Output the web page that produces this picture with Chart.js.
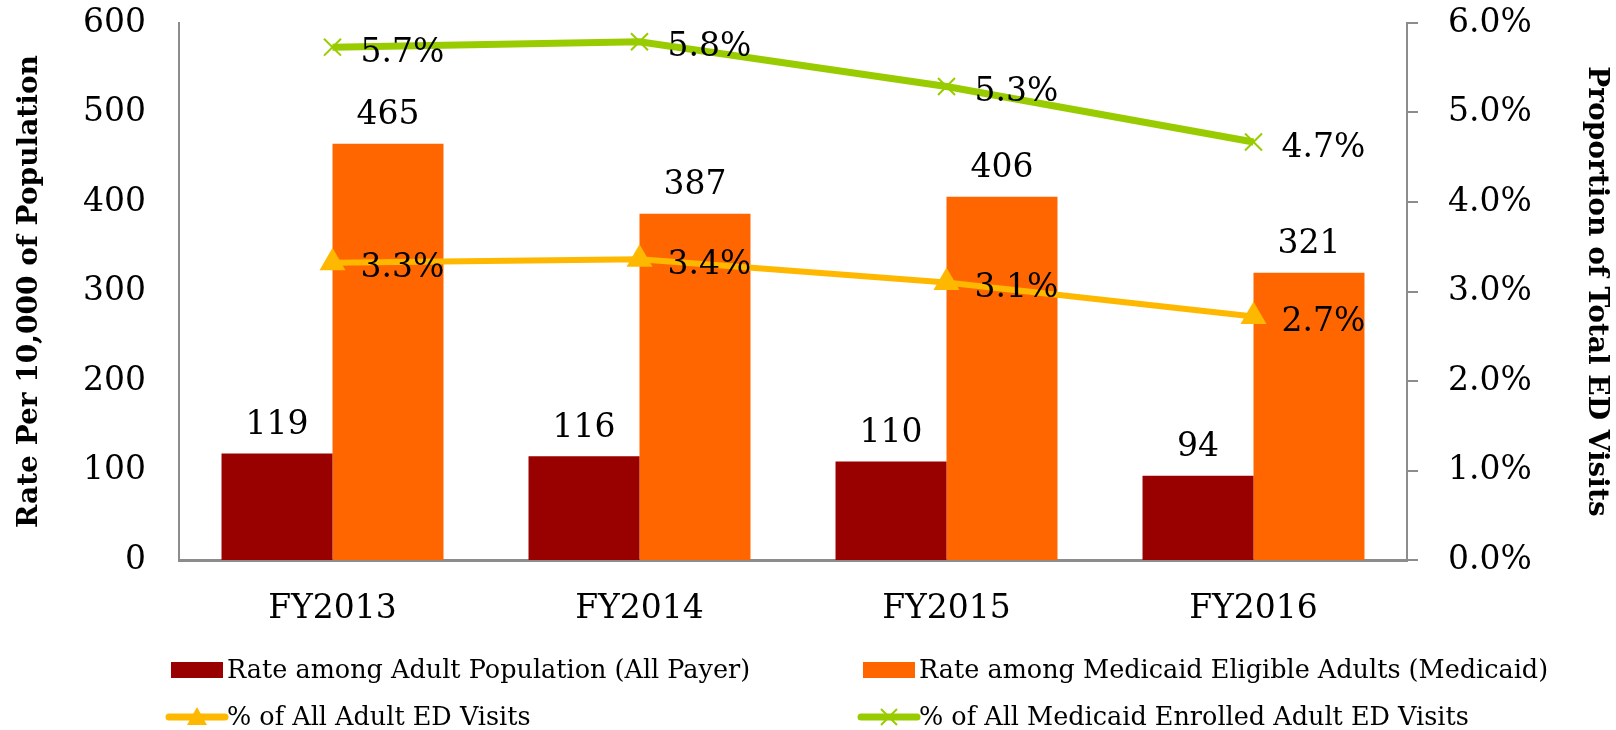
<!DOCTYPE html>
<html>
<head>
<meta charset="utf-8">
<script src="https://cdn.jsdelivr.net/npm/chart.js@4"></script>
<style>
  body { margin: 0; background: #fff; }
</style>
</head>
<body>
<canvas id="edChart" width="1616" height="730"></canvas>
<script>
let years = ["FY2013", "FY2014", "FY2015", "FY2016"]
let allPayerRate = [119, 116, 110, 94]
let medicaidRate = [465, 387, 406, 321]
let pctAllAdult = [3.32, 3.36, 3.10, 2.72]
let pctMedicaidAdult = [5.73, 5.79, 5.29, 4.67]
let leftTicks = [0, 100, 200, 300, 400, 500, 600]
let rightTicks = [0, 1, 2, 3, 4, 5, 6]

let serif = "'DejaVu Serif', serif"
let axisGray = "#8c8c8c"

// value labels above bars and to the right of line points
let valueLabels = {
    id: "valueLabels",
    afterDatasetsDraw(chart) {
        let ctx = chart.ctx
        ctx.save()
        ctx.fillStyle = "#000"
        ctx.font = "33px " + serif
        chart.data.datasets.forEach((ds, i) => {
            let meta = chart.getDatasetMeta(i)
            meta.data.forEach((el, j) => {
                ctx.textBaseline = "middle"
                if (ds.type == "bar") {
                    ctx.textAlign = "center"
                    ctx.fillText(ds.data[j], el.x, el.y - 28)
                } else {
                    ctx.textAlign = "left"
                    ctx.fillText(ds.data[j].toFixed(1) + "%", el.x + 28, el.y + 6)
                }
            })
        })
        ctx.restore()
    }
}

// two column legend under the chart
let gridLegend = {
    id: "gridLegend",
    afterDraw(chart) {
        let ctx = chart.ctx
        let cols = [171, 863]
        let rows = [670, 717]
        ctx.save()
        ctx.font = "25.5px " + serif
        ctx.textBaseline = "middle"
        ctx.textAlign = "left"
        chart.data.datasets.forEach((ds, i) => {
            let x = cols[i % 2]
            let y = rows[Math.floor(i / 2)]
            if (ds.type == "bar") {
                ctx.fillStyle = ds.backgroundColor
                ctx.fillRect(x, y - 8, 52, 16)
            } else {
                ctx.strokeStyle = ds.borderColor
                ctx.lineWidth = 7
                ctx.lineCap = "round"
                ctx.beginPath()
                ctx.moveTo(x - 2, y)
                ctx.lineTo(x + 54, y)
                ctx.stroke()
                let cx = x + 26
                if (ds.pointStyle == "triangle") {
                    ctx.fillStyle = ds.borderColor
                    ctx.beginPath()
                    ctx.moveTo(cx, y - 10)
                    ctx.lineTo(cx + 10, y + 8)
                    ctx.lineTo(cx - 10, y + 8)
                    ctx.closePath()
                    ctx.fill()
                } else {
                    ctx.lineWidth = 2
                    ctx.lineCap = "butt"
                    ctx.beginPath()
                    ctx.moveTo(cx - 8, y - 8)
                    ctx.lineTo(cx + 8, y + 8)
                    ctx.moveTo(cx + 8, y - 8)
                    ctx.lineTo(cx - 8, y + 8)
                    ctx.stroke()
                }
            }
            ctx.fillStyle = "#000"
            ctx.fillText(ds.label, x + 56, y + 1)
        })
        ctx.restore()
    }
}

new Chart(document.getElementById("edChart"), {
    data: {
        labels: years,
        datasets: [
            {
                type: "bar",
                label: "Rate among Adult Population (All Payer)",
                data: allPayerRate,
                backgroundColor: "#990000",
                yAxisID: "y",
                order: 2,
                categoryPercentage: 0.723,
                barPercentage: 1
            },
            {
                type: "bar",
                label: "Rate among Medicaid Eligible Adults (Medicaid)",
                data: medicaidRate,
                backgroundColor: "#FF6600",
                yAxisID: "y",
                order: 2,
                categoryPercentage: 0.723,
                barPercentage: 1
            },
            {
                type: "line",
                label: "% of All Adult ED Visits",
                data: pctAllAdult,
                borderColor: "#FFB800",
                backgroundColor: "#FFB800",
                borderWidth: 6,
                pointStyle: "triangle",
                pointRadius: 15,
                pointBorderWidth: 0,
                yAxisID: "y1",
                order: 0
            },
            {
                type: "line",
                label: "% of All Medicaid Enrolled Adult ED Visits",
                data: pctMedicaidAdult,
                borderColor: "#99CC00",
                backgroundColor: "#99CC00",
                borderWidth: 7,
                pointStyle: "crossRot",
                pointRadius: 12,
                pointBorderWidth: 2,
                yAxisID: "y1",
                order: 1
            }
        ]
    },
    options: {
        responsive: false,
        animation: false,
        layout: { autoPadding: false, padding: { top: 23, bottom: 100, left: 0, right: 0 } },
        plugins: {
            legend: { display: false },
            tooltip: { enabled: false }
        },
        scales: {
            x: {
                grid: { display: false },
                border: { display: true, color: axisGray, width: 3 },
                ticks: { color: "#000", padding: 22, font: { family: serif, size: 33 } },
                afterFit(scale) { scale.height = 70 }
            },
            y: {
                position: "left",
                min: leftTicks[0],
                max: leftTicks[leftTicks.length - 1],
                grid: { display: false },
                border: { display: true, color: axisGray, width: 2 },
                afterBuildTicks(scale) { scale.ticks = leftTicks.map(v => ({ value: v })) },
                ticks: { color: "#000", padding: 25, font: { family: serif, size: 33 } },
                title: {
                    display: true,
                    text: "Rate Per 10,000 of Population",
                    color: "#000",
                    font: { family: serif, size: 28, weight: "bold" },
                    padding: { top: 13, bottom: 0 }
                },
                afterFit(scale) {
                    scale.width = 179
                    scale.paddingTop = 0
                    scale.paddingBottom = 0
                }
            },
            y1: {
                position: "right",
                min: rightTicks[0],
                max: rightTicks[rightTicks.length - 1],
                grid: { drawOnChartArea: false, drawTicks: true, tickLength: 11, color: axisGray, lineWidth: 2 },
                border: { display: true, color: axisGray, width: 2 },
                afterBuildTicks(scale) { scale.ticks = rightTicks.map(v => ({ value: v })) },
                ticks: {
                    color: "#000",
                    padding: 30,
                    font: { family: serif, size: 33 },
                    callback: v => v.toFixed(1) + "%"
                },
                title: {
                    display: true,
                    text: "Proportion of Total ED Visits",
                    color: "#000",
                    font: { family: serif, size: 28, weight: "bold" },
                    padding: { top: 3, bottom: 0 }
                },
                afterFit(scale) {
                    scale.width = 209
                    scale.paddingTop = 0
                    scale.paddingBottom = 0
                }
            }
        }
    },
    plugins: [valueLabels, gridLegend]
})
</script>
</body>
</html>
